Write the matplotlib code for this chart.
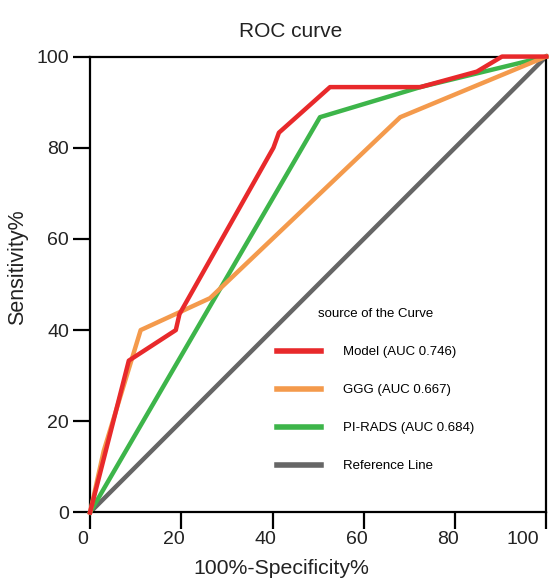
import matplotlib
matplotlib.use("Agg")
import matplotlib.pyplot as plt
from matplotlib.transforms import ScaledTranslation

# ROC curve data, in percent
model_x = [0, 8.5, 18.8, 19.6, 40.2, 41.4, 52.6, 72.4, 84.8, 90.3, 100]
model_y = [0, 33.3, 40.0, 43.5, 80.0, 83.3, 93.3, 93.3, 96.7, 100, 100]

ggg_x = [0, 3.0, 11.1, 26.3, 68.0, 100]
ggg_y = [0, 13.5, 40.0, 47.0, 86.7, 100]

pirads_x = [0, 50.4, 72.4, 100]
pirads_y = [0, 86.7, 93.3, 100]

ref_x = [0, 100]
ref_y = [0, 100]

labels = ["Model (AUC 0.746)", "GGG (AUC 0.667)", "PI-RADS (AUC 0.684)", "Reference Line"]
colors = ["#e8292b", "#f49a4c", "#3db54a", "#666666"]
ticks = [0, 20, 40, 60, 80, 100]

plt.rcParams['font.family'] = ['Liberation Sans', 'DejaVu Sans']

fig = plt.figure(figsize=(5.49, 5.83), dpi=100)
ax = fig.add_axes([0.164, 0.121, 0.831, 0.782])

# curves
ax.plot(ref_x, ref_y, color=colors[3], lw=3.2, label=labels[3], zorder=2, clip_on=False)
ax.plot(pirads_x, pirads_y, color=colors[2], lw=3.2, label=labels[2], zorder=3, clip_on=False)
ax.plot(ggg_x, ggg_y, color=colors[1], lw=3.2, label=labels[1], zorder=4, clip_on=False)
ax.plot(model_x, model_y, color=colors[0], lw=3.2, label=labels[0], zorder=5, clip_on=False)

ax.set_xlim(0, 100)
ax.set_ylim(0, 100)
ax.set_xticks(ticks)
ax.set_yticks(ticks)

for s in ax.spines.values():
    s.set_linewidth(1.6)
    s.set_color("black")

ax.tick_params(axis='both', direction='out', length=12, width=1.6, labelsize=14,
               color="black", labelcolor="#222222")
ax.tick_params(axis='x', pad=1)
ax.tick_params(axis='y', pad=3)

# x tick labels sit a little left of their ticks in the reference
shift = ScaledTranslation(-5 / 72, 0, fig.dpi_scale_trans)
for lab in ax.get_xticklabels():
    lab.set_transform(lab.get_transform() + shift)
ax.get_xticklabels()[-1].set_horizontalalignment('right')

ax.set_title("ROC curve", fontsize=15, pad=14, color="#222222", x=0.44)
ax.set_xlabel("100%-Specificity%", fontsize=15.3, color="#222222")
ax.xaxis.set_label_coords(0.42, -0.102)
ax.set_ylabel("Sensitivity%", fontsize=15.5, color="#222222")
ax.yaxis.set_label_coords(-0.136, 0.537)

# legend in the order of the reference
handles, labs = ax.get_legend_handles_labels()
order = [3, 2, 1, 0]
leg = ax.legend([handles[i] for i in order], [labs[i] for i in order],
                title="source of the Curve", loc='center', bbox_to_anchor=(0.627, 0.268),
                frameon=False, fontsize=9.5, title_fontsize=9.5,
                handlelength=3.3, handletextpad=1.7, labelspacing=1.95)
for line in leg.get_lines():
    line.set_linewidth(4)

fig.savefig("out.png", dpi=100)
